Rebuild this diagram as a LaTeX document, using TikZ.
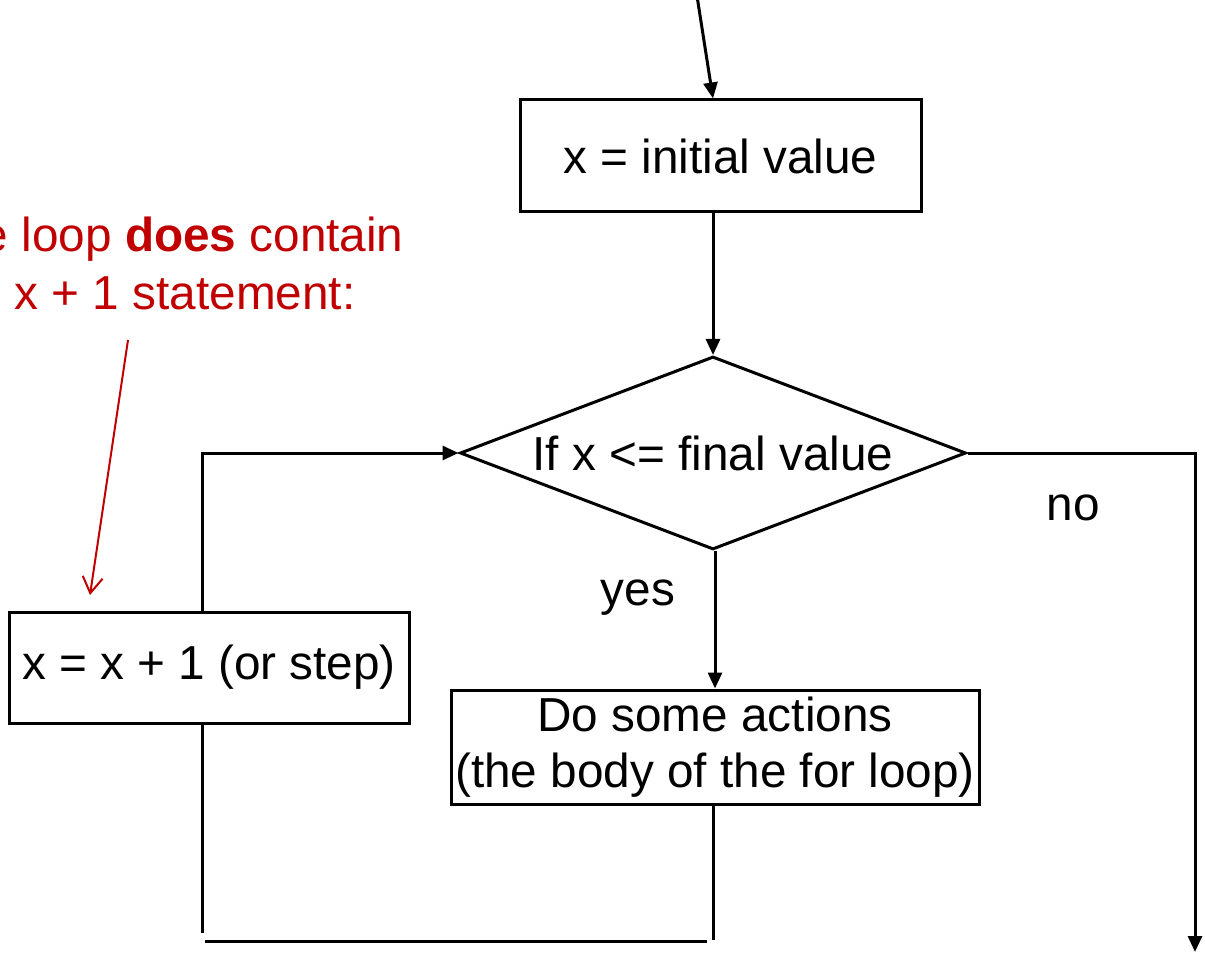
\documentclass[tikz,border=0pt]{standalone}
\usepackage{fontspec}
\setmainfont{Liberation Sans}
\usetikzlibrary{shapes.geometric,positioning,arrows.meta}
\definecolor{notered}{RGB}{192,0,0}

\begin{document}
\begin{tikzpicture}[
    font=\fontsize{23.85}{28}\selectfont,
    line width=1.5pt,
    >={Triangle[length=8pt,width=7pt]},
    box/.style={draw,rectangle,inner sep=0pt},
    test/.style={draw,diamond,shape aspect=2.62,inner sep=0pt,minimum width=253pt,minimum height=96.5pt},
    note/.style={notered,inner sep=0pt,anchor=base east}
  ]
      \useasboundingbox (0,0) rectangle (602.5pt,-478.5pt);

      \node [box,minimum width=200.5pt,minimum height=56pt] (1) at (360.25pt,-78pt) {x = initial value};
      \node [test,below of=1,node distance=148.5pt,xshift=-3.75pt] (2) {If x <= final value};
      \node [box,align=center,minimum width=264pt,minimum height=57pt,below of=2,node distance=147pt,xshift=1pt] (3) {Do some actions\\(the body of the for loop)};
      \node [box,minimum width=200pt,minimum height=55.5pt] (4) at (104.5pt,-333.75pt) {x = x + 1 (or step)};

      \node (yes) at (319pt,-299pt) {yes};
      \node (no) at (536.5pt,-254pt) {no};

      \node [note] (note1) at (202.5pt,-126pt) {e loop \textbf{does} contain};
      \node [note] (note2) at (178.5pt,-155pt) {= x + 1 statement:};

      \coordinate (start) at (348.5pt,2pt);
      \coordinate (exit) at (597.5pt,-476pt);
      \coordinate (tail) at (64pt,-170pt);
      \coordinate (head) at (45pt,-297.5pt);
      \coordinate (bl) at (101pt,-466.5pt);
      \coordinate (bl2) at (102.5pt,-470.5pt);
      \coordinate (br) at (353.5pt,-470.5pt);
      \coordinate (br2) at (356.5pt,-470pt);

      \draw[->] (start) -- (1.north -| 2.north);
      \draw[->] (1.south -| 2.north) -- (2.north);
      \draw[->] (2.south -| 3.north) -- (3.north);
      \draw[->] (2.east) -| (exit);
      \draw[->] ([xshift=-3.5pt]4.north) |- (2.west);
      \draw ([xshift=-3.5pt]4.south) -- (bl);
      \draw (bl2) -- (br);
      \draw (3.south -| br2) -- (br2);
      \draw[notered,line width=1pt,-{Straight Barb[length=8pt,width=10pt]}] (tail) -- (head);
    \end{tikzpicture}
\end{document}
